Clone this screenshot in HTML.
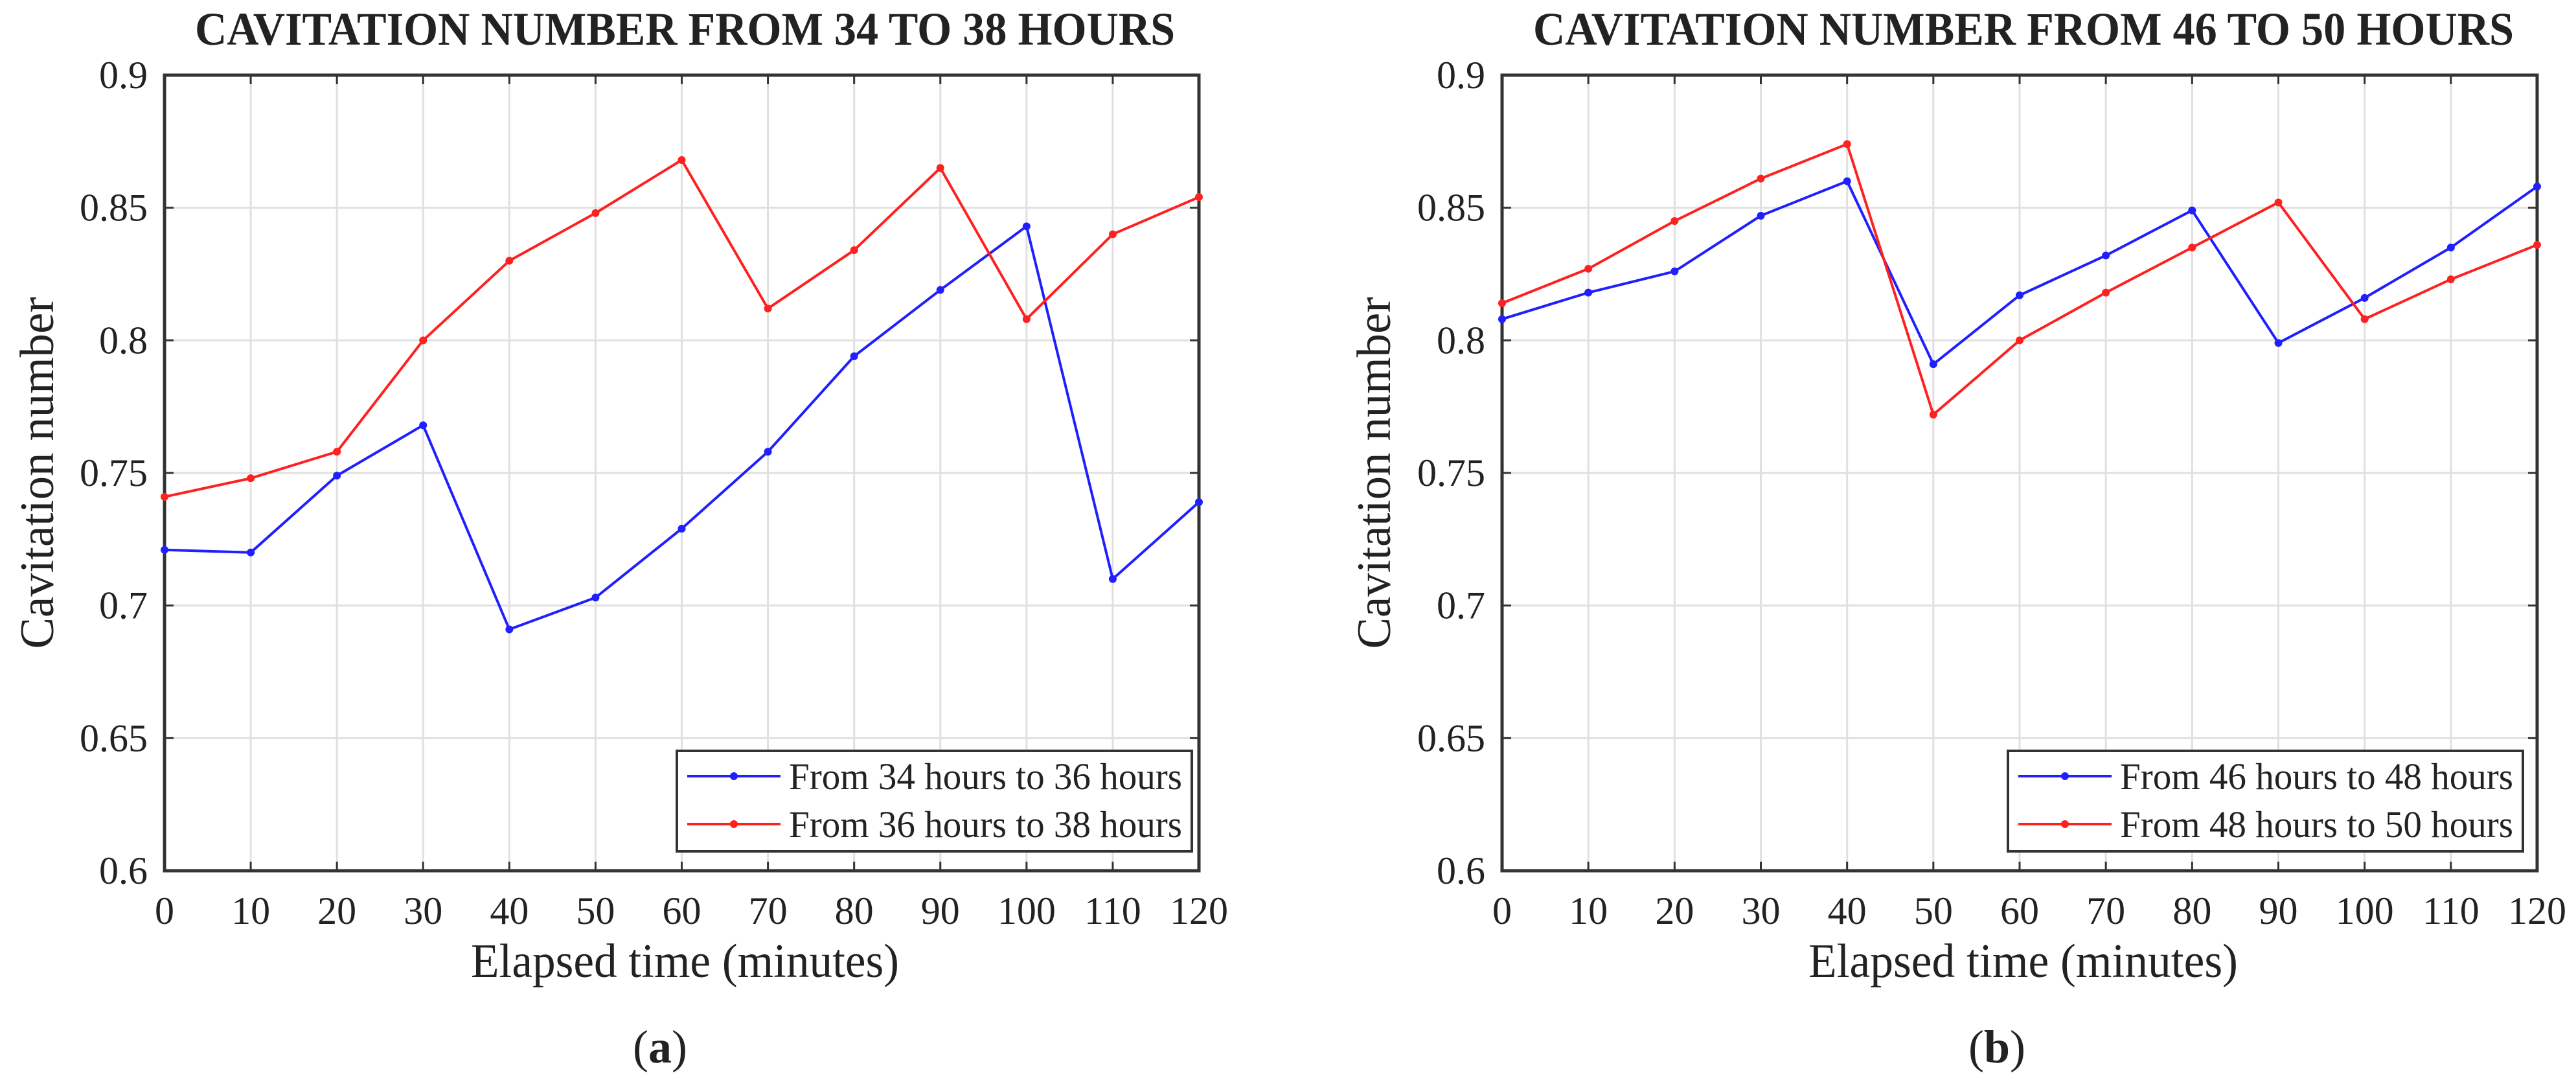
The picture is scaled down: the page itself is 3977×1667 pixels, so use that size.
<!DOCTYPE html>
<html><head><meta charset="utf-8"><style>
html,body{margin:0;padding:0;background:#fff;}
svg{display:block;}
text{font-family:"Liberation Serif",serif;fill:#222;}
</style></head><body>
<svg id="fig" width="3977" height="1667" viewBox="0 0 3977 1667" xmlns="http://www.w3.org/2000/svg"></svg>
<script>
const categories = [0,10,20,30,40,50,60,70,80,90,100,110,120];
const yTicks = [0.6,0.65,0.7,0.75,0.8,0.85,0.9];
const yTickLabels = ["0.6","0.65","0.7","0.75","0.8","0.85","0.9"];
const seriesA1 = [0.721,0.720,0.749,0.768,0.691,0.703,0.729,0.758,0.794,0.819,0.843,0.710,0.739];
const seriesA2 = [0.741,0.748,0.758,0.800,0.830,0.848,0.868,0.812,0.834,0.865,0.808,0.840,0.854];
const seriesB1 = [0.808,0.818,0.826,0.847,0.860,0.791,0.817,0.832,0.849,0.799,0.816,0.835,0.858];
const seriesB2 = [0.814,0.827,0.845,0.861,0.874,0.772,0.800,0.818,0.835,0.852,0.808,0.823,0.836];
const namesA = ["From 34 hours to 36 hours","From 36 hours to 38 hours"];
const namesB = ["From 46 hours to 48 hours","From 48 hours to 50 hours"];

const NS = "http://www.w3.org/2000/svg";
const svg = document.getElementById('fig');
function el(tag, attrs, parent, txt){
  const e = document.createElementNS(NS, tag);
  for (const k in attrs) e.setAttribute(k, attrs[k]);
  if (txt !== undefined) e.textContent = txt;
  (parent||svg).appendChild(e);
  return e;
}

function panel(cfg){
  const g = el('g', {}, svg);
  
  
  const xs = v => cfg.x0 + (v - 0) / 120 * (cfg.x1 - cfg.x0);
  const ys = v => cfg.yb - (v - 0.6) / 0.3 * (cfg.yb - cfg.yt);
  // grid
  categories.forEach(c => {
    const l = el('line', {x1:xs(c), x2:xs(c), y1:cfg.yt, y2:cfg.yb, stroke:'#e0e0e0','stroke-width':3}, g);
    
    
  });
  yTicks.forEach(t => {
    const l = el('line', {x1:cfg.x0, x2:cfg.x1, y1:ys(t), y2:ys(t), stroke:'#e0e0e0','stroke-width':3}, g);
    
    
  });
  // ticks
  categories.forEach(c => {
    el('line', {x1:xs(c), x2:xs(c), y1:cfg.yb, y2:cfg.yb-14, stroke:'#333','stroke-width':3}, g);
    el('line', {x1:xs(c), x2:xs(c), y1:cfg.yt, y2:cfg.yt+14, stroke:'#333','stroke-width':3}, g);
    const t = el('text', {x:xs(c), y:1426, 'font-size':60, 'text-anchor':'middle', fill:'#333'}, g, String(c));
    
    
  });
  yTicks.forEach((v,i) => {
    el('line', {x1:cfg.x0, x2:cfg.x0+14, y1:ys(v), y2:ys(v), stroke:'#333','stroke-width':3}, g);
    el('line', {x1:cfg.x1, x2:cfg.x1-14, y1:ys(v), y2:ys(v), stroke:'#333','stroke-width':3}, g);
    const t = el('text', {x:cfg.x0-26, y:ys(v)+20, 'font-size':60, 'text-anchor':'end', fill:'#333'}, g, yTickLabels[i]);
    
    
  });
  // frame
  const fr = el('rect', {x:cfg.x0, y:cfg.yt, width:cfg.x1-cfg.x0, height:cfg.yb-cfg.yt, fill:'none', stroke:'#333','stroke-width':5}, g);
  
  
  // series
  const cols = ['#1f1fff','#ff2020'];
  cfg.series.forEach((s, si) => {
    const pts = s.map((v,i) => xs(categories[i]) + ',' + ys(v)).join(' ');
    const pl = el('polyline', {points:pts, fill:'none', stroke:cols[si], 'stroke-width':4}, g);
    
    
    s.forEach((v,i) => {
      const c = el('circle', {cx:xs(categories[i]), cy:ys(v), r:6, fill:cols[si]}, g);
      
      
    });
  });
  // legend
  const lg = el('g', {}, g);
  
  
  el('rect', {x:cfg.lx0, y:1159, width:cfg.lx1-cfg.lx0, height:155, fill:'#fff', stroke:'#333','stroke-width':4}, lg);
  [1198,1272].forEach((yy, si) => {
    const e = el('g', {}, lg);
    
    
    el('line', {x1:cfg.lx0+16, x2:cfg.lx0+160, y1:yy, y2:yy, stroke:cols[si], 'stroke-width':4}, e);
    el('circle', {cx:cfg.lx0+88, cy:yy, r:6, fill:cols[si]}, e);
    el('text', {x:cfg.lx0+173, y:yy+20, 'font-size':58, textLength:cfg.lx1-cfg.lx0-188, lengthAdjust:'spacingAndGlyphs'}, e, cfg.names[si]);
  });
  // titles
  const tt = el('text', {x:cfg.tx0, y:69, 'font-size':72, 'font-weight':'bold', textLength:cfg.tx1-cfg.tx0, lengthAdjust:'spacingAndGlyphs', fill:'#111'}, g, cfg.title);
  
  
  const xl = el('text', {x:cfg.xlx0, y:1508, 'font-size':74, textLength:cfg.xlx1-cfg.xlx0, lengthAdjust:'spacingAndGlyphs', fill:'#333'}, g, 'Elapsed time (minutes)');
  
  
  const yl = el('text', {x:0, y:0, 'font-size':74, 'text-anchor':'middle', textLength:543, lengthAdjust:'spacingAndGlyphs', fill:'#333', transform:'translate(' + cfg.ylx + ',730) rotate(-90)'}, g, 'Cavitation number');
  
  
  const cap = el('text', {x:cfg.capx, y:1640, 'font-size':72, 'text-anchor':'middle', fill:'#111'}, g);
  
  
  el('tspan', {}, cap, '(');
  el('tspan', {'font-weight':'bold'}, cap, cfg.letter);
  el('tspan', {}, cap, ')');
}

panel({id:'chart-a', x0:254, x1:1851, yt:116, yb:1344, series:[seriesA1, seriesA2], names:namesA,
  lx0:1045, lx1:1840, tx0:301, tx1:1814, title:'CAVITATION NUMBER FROM 34 TO 38 HOURS',
  xlx0:727, xlx1:1388, ylx:82, capx:1019, letter:'a'});
panel({id:'chart-b', x0:2319, x1:3917, yt:116, yb:1344, series:[seriesB1, seriesB2], names:namesB,
  lx0:3100, lx1:3895, tx0:2367, tx1:3881, title:'CAVITATION NUMBER FROM 46 TO 50 HOURS',
  xlx0:2792, xlx1:3455, ylx:2146, capx:3083, letter:'b'});
</script>
</body></html>
